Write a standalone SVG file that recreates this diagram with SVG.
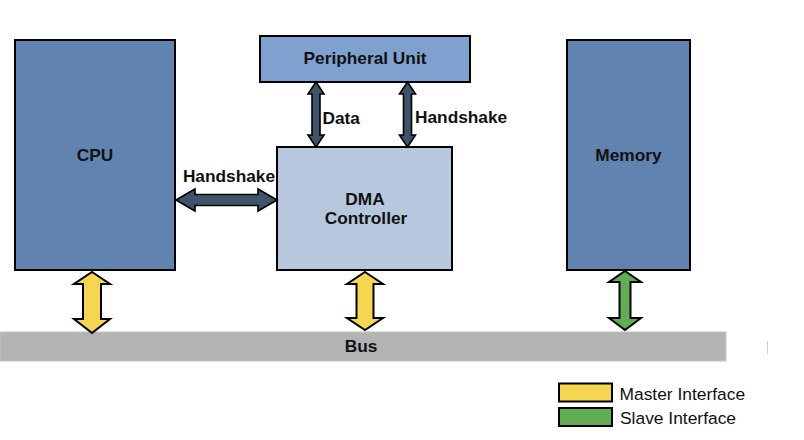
<svg xmlns="http://www.w3.org/2000/svg" width="804" height="440" viewBox="0 0 804 440">
<style>
.box{stroke:#000;stroke-width:2}
.lbl{font-family:"Liberation Sans",Arial,sans-serif;font-weight:bold;font-size:17.3px;fill:#111}
.leg{font-family:"Liberation Sans",Arial,sans-serif;font-size:17.4px;fill:#111}
.mid{text-anchor:middle}
.dark{fill:#3f536b;stroke:#000;stroke-width:1.6;stroke-linejoin:miter}
.yel{fill:#f6d651;stroke:#000;stroke-width:2}
.grn{fill:#61ac55;stroke:#000;stroke-width:2}
</style>
<rect width="804" height="440" fill="#fff"/>
<g id="bus">
<rect x="0" y="332" width="726" height="29" fill="#b3b3b3" stroke="#c4c4c4" stroke-width="1"/>
<text class="lbl mid" x="361" y="352">Bus</text>
</g>
<line x1="767.5" y1="341" x2="767.5" y2="354" stroke="#cfcfcf" stroke-width="1"/>
<g id="cpu">
<rect class="box" x="15" y="40" width="160" height="230" fill="#6083b0"/>
<text class="lbl mid" x="95" y="161">CPU</text>
</g>
<g id="peripheral">
<rect class="box" x="260" y="36" width="210" height="46" fill="#7ea1d0"/>
<text class="lbl mid" x="365" y="64">Peripheral Unit</text>
</g>
<g id="dma">
<rect class="box" x="277" y="147" width="175" height="123" fill="#b7c7de"/>
<text class="lbl mid" x="365" y="205">DMA</text>
<text class="lbl mid" x="366" y="224">Controller</text>
</g>
<g id="memory">
<rect class="box" x="567" y="40" width="123" height="230" fill="#6083b0"/>
<text class="lbl mid" x="628.5" y="161">Memory</text>
</g>
<g id="connectors">
<polygon class="dark" points="176,200 195,189 195,194.5 258,194.5 258,189 277,200 258,211 258,205.5 195,205.5 195,211"/>
<text class="lbl mid" x="229" y="182">Handshake</text>
<polygon class="dark" points="316,82 324,94 320,94 320,135 324,135 316,147 308,135 312,135 312,94 308,94"/>
<text class="lbl" x="322.5" y="124">Data</text>
<polygon class="dark" points="407.5,82 415.5,94 411.5,94 411.5,135 415.5,135 407.5,147 399.5,135 403.5,135 403.5,94 399.5,94"/>
<text class="lbl" x="415" y="123">Handshake</text>
<polygon class="yel" points="92,272 110,284 101,284 101,319 110,319 92,333 74,319 83,319 83,284 74,284"/>
<polygon class="yel" points="365,272 383,284 373.5,284 373.5,318 383,318 365,330 347,318 356.5,318 356.5,284 347,284"/>
<polygon class="grn" points="625,271 641,282 630.5,282 630.5,318 641,318 625,330 609,318 619.5,318 619.5,282 609,282"/>
</g>
<g id="legend">
<rect x="559" y="383.5" width="53" height="18" fill="#f6d651" stroke="#000" stroke-width="2"/>
<rect x="559" y="408" width="53" height="18" fill="#61ac55" stroke="#000" stroke-width="2"/>
<text class="leg" x="619.5" y="399.5">Master Interface</text>
<text class="leg" x="620" y="424">Slave Interface</text>
</g>
</svg>
